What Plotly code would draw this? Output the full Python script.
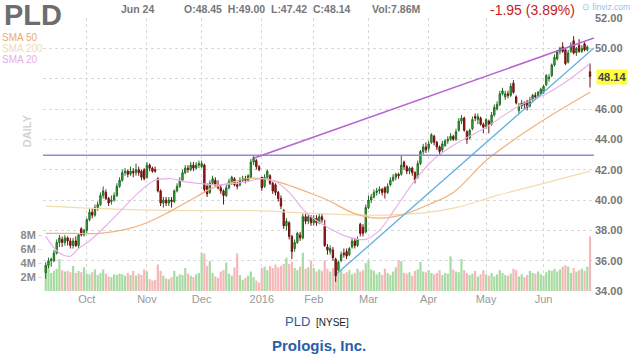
import plotly.graph_objects as go

# ---------------- data ----------------
opens = [
    35.2, 35.7, 36.0, 36.0, 36.5, 37.2, 37.4, 37.2, 37.5, 37.3,
    37.0, 37.3, 37.0, 38.1, 37.7, 38.0, 38.7, 39.2, 39.0, 39.5,
    39.7, 40.3, 40.5, 40.1, 39.9, 40.0, 40.3, 40.9, 41.3, 41.8,
    41.9, 41.7, 41.9, 41.8, 42.0, 41.9, 42.0, 41.5, 42.3, 42.1,
    42.0, 41.4, 40.6, 39.8, 40.0, 39.8, 40.0, 39.9, 40.6, 40.9,
    41.3, 41.8, 42.1, 42.0, 42.3, 42.1, 42.3, 42.2, 42.3, 40.9,
    40.5, 41.1, 41.3, 41.0, 40.8, 40.6, 40.3, 40.8, 41.2, 41.4,
    41.0, 41.0, 41.3, 41.4, 41.3, 41.5, 42.5, 42.6, 42.2, 41.5,
    40.9, 41.5, 41.6, 41.1, 41.0, 40.5, 40.1, 39.3, 38.3, 38.5,
    37.6, 36.8, 37.2, 37.7, 37.5, 38.9, 38.6, 38.9, 38.5, 38.8,
    38.5, 38.9, 38.3, 36.9, 36.6, 36.7, 36.1, 35.4, 36.0, 36.5,
    36.6, 36.4, 36.9, 37.3, 37.0, 38.4, 38.2, 37.9, 39.5, 40.0,
    40.2, 40.5, 40.6, 40.7, 40.8, 40.5, 41.0, 41.3, 41.5, 41.7,
    41.7, 42.5, 42.2, 41.9, 42.1, 41.8, 41.5, 42.4, 43.2, 43.5,
    43.4, 43.8, 44.2, 43.8, 43.5, 43.3, 43.6, 43.9, 44.0, 44.2,
    44.0, 44.6, 45.2, 45.4, 44.5, 44.1, 44.7, 45.5, 45.3, 45.4,
    45.0, 44.8, 45.2, 45.0, 45.6, 46.0, 46.3, 47.0, 46.8, 47.0,
    46.9, 47.7, 46.8, 45.9, 46.2, 46.4, 46.5, 46.2, 46.6, 46.9,
    46.9, 47.0, 47.1, 47.6, 48.0, 48.2, 48.9, 49.3, 49.8, 50.1,
    49.9, 49.1, 49.8, 50.5, 49.7, 50.2, 49.8, 50.3, 49.9, 48.45,
]
highs = [
    35.9, 36.2, 36.2, 36.7, 37.4, 37.7, 37.6, 37.7, 37.6, 37.5,
    37.5, 37.6, 37.8, 38.2, 38.1, 38.8, 39.4, 39.4, 39.7, 39.9,
    40.5, 40.9, 40.7, 40.2, 40.3, 40.5, 41.1, 41.5, 42.0, 42.1,
    42.0, 42.2, 42.1, 42.4, 42.2, 42.0, 42.1, 42.5, 42.4, 42.2,
    42.2, 41.5, 40.7, 40.2, 40.2, 40.2, 40.2, 40.7, 41.1, 41.5,
    42.0, 42.3, 42.3, 42.5, 42.5, 42.5, 42.6, 42.6, 42.4, 41.1,
    41.3, 41.6, 41.5, 41.3, 41.0, 40.7, 41.0, 41.4, 41.6, 41.5,
    41.2, 41.5, 41.6, 41.6, 41.7, 42.7, 42.95, 42.7, 42.3, 41.5,
    41.7, 42.0, 41.7, 41.2, 41.1, 40.6, 40.3, 39.4, 38.8, 38.6,
    37.7, 37.4, 37.9, 37.9, 39.1, 39.1, 39.1, 39.0, 39.0, 39.0,
    39.1, 39.1, 38.7, 37.1, 37.0, 36.9, 36.2, 36.0, 36.6, 36.8,
    36.8, 36.9, 37.5, 37.5, 37.6, 38.5, 38.4, 39.7, 40.3, 40.4,
    40.7, 40.8, 40.9, 40.8, 40.9, 41.1, 41.5, 41.7, 41.8, 41.8,
    42.9, 42.6, 42.3, 42.2, 42.2, 41.9, 42.6, 43.3, 43.7, 43.8,
    43.9, 44.4, 44.3, 43.9, 43.6, 43.9, 44.0, 44.2, 44.4, 44.3,
    44.7, 45.4, 45.6, 45.5, 44.6, 44.7, 45.5, 45.7, 45.7, 45.5,
    45.1, 45.4, 45.3, 45.8, 46.3, 46.5, 47.2, 47.4, 47.2, 47.2,
    47.7, 47.9, 46.9, 46.4, 46.6, 46.5, 46.6, 46.8, 47.0, 47.1,
    47.2, 47.4, 47.6, 48.3, 48.3, 49.0, 49.6, 49.9, 50.1, 50.4,
    50.0, 49.9, 50.4, 50.8, 50.1, 50.6, 50.2, 50.4, 50.2, 49.00,
]
lows = [
    34.8, 35.5, 35.6, 35.9, 36.4, 36.9, 36.9, 37.0, 37.0, 36.8,
    36.8, 36.9, 36.8, 37.6, 37.6, 37.8, 38.6, 38.8, 38.9, 39.3,
    39.6, 40.1, 40.0, 39.6, 39.7, 39.9, 40.2, 40.8, 41.2, 41.6,
    41.5, 41.6, 41.5, 41.6, 41.6, 41.3, 41.3, 41.4, 41.9, 41.8,
    41.8, 40.5, 39.6, 39.5, 39.6, 39.6, 39.5, 39.8, 40.5, 40.8,
    41.2, 41.7, 41.8, 41.9, 41.9, 42.0, 42.1, 42.1, 40.5, 40.2,
    40.4, 41.0, 40.9, 40.7, 40.4, 39.7, 40.2, 40.7, 41.0, 40.9,
    40.7, 40.9, 41.2, 41.1, 41.2, 41.5, 42.3, 42.0, 41.9, 40.6,
    40.8, 41.3, 41.0, 40.4, 40.3, 39.9, 39.4, 38.1, 38.0, 37.4,
    36.1, 36.6, 37.1, 37.3, 37.4, 38.4, 38.4, 38.3, 38.3, 38.3,
    38.4, 38.5, 36.9, 36.4, 36.4, 36.0, 34.6, 35.3, 35.9, 36.2,
    36.1, 36.3, 36.8, 36.8, 36.9, 37.6, 37.6, 37.8, 39.4, 39.8,
    40.1, 40.3, 40.4, 40.3, 40.1, 40.4, 40.9, 41.2, 41.3, 41.4,
    41.6, 42.0, 41.7, 41.7, 41.6, 41.1, 41.4, 42.3, 43.0, 43.1,
    43.2, 43.7, 43.6, 43.3, 42.9, 43.1, 43.5, 43.7, 43.9, 43.9,
    43.9, 44.5, 45.0, 44.5, 43.7, 44.0, 44.6, 45.2, 45.0, 44.9,
    44.4, 44.7, 44.4, 44.9, 45.5, 45.9, 46.2, 46.9, 46.6, 46.7,
    46.8, 47.0, 46.3, 45.7, 46.0, 46.0, 45.9, 46.1, 46.5, 46.6,
    46.8, 46.9, 47.0, 47.5, 47.8, 48.1, 48.8, 49.2, 49.6, 49.7,
    48.9, 49.0, 49.7, 49.6, 49.5, 49.7, 49.7, 49.8, 49.8, 47.42,
]
closes = [
    35.7, 36.0, 36.1, 36.5, 37.2, 37.5, 37.2, 37.5, 37.3, 37.0,
    37.3, 37.0, 37.7, 37.7, 38.0, 38.7, 39.2, 39.0, 39.5, 39.7,
    40.3, 40.6, 40.1, 39.8, 40.0, 40.3, 40.9, 41.3, 41.8, 41.9,
    41.7, 41.9, 41.8, 42.0, 41.8, 41.5, 41.4, 42.3, 42.1, 41.9,
    41.9, 40.6, 39.8, 40.0, 39.8, 40.0, 39.9, 40.6, 40.9, 41.3,
    41.8, 42.1, 42.0, 42.3, 42.1, 42.3, 42.4, 42.4, 40.7, 40.4,
    41.1, 41.4, 41.0, 40.8, 40.6, 40.3, 40.8, 41.2, 41.5, 41.0,
    40.9, 41.3, 41.4, 41.3, 41.6, 42.5, 42.8, 42.2, 42.0, 40.8,
    41.5, 41.9, 41.1, 40.6, 40.5, 40.1, 39.6, 38.3, 38.6, 37.6,
    36.6, 37.2, 37.8, 37.5, 38.9, 38.6, 38.9, 38.5, 38.8, 38.5,
    38.9, 38.7, 37.0, 36.7, 36.8, 36.2, 35.0, 35.9, 36.4, 36.4,
    36.3, 36.8, 37.3, 37.0, 37.4, 37.8, 37.8, 39.5, 40.0, 40.2,
    40.5, 40.6, 40.7, 40.5, 40.5, 40.9, 41.3, 41.5, 41.7, 41.6,
    42.3, 42.2, 41.9, 42.1, 41.8, 41.3, 42.4, 43.2, 43.5, 43.3,
    43.7, 44.3, 43.8, 43.5, 43.2, 43.7, 43.9, 44.0, 44.2, 44.0,
    44.5, 45.2, 45.4, 44.6, 44.0, 44.6, 45.3, 45.4, 45.5, 45.0,
    44.8, 45.3, 45.0, 45.6, 46.1, 46.3, 47.0, 47.2, 47.0, 46.9,
    47.5, 47.1, 46.4, 46.2, 46.4, 46.3, 46.1, 46.6, 46.9, 46.8,
    47.1, 47.3, 47.5, 48.2, 48.1, 48.9, 49.4, 49.8, 50.0, 49.8,
    49.0, 49.7, 50.2, 49.7, 50.0, 49.8, 50.0, 49.9, 50.09, 48.14,
]
volumes_m = [
    3.5, 3.9, 2.6, 2.9, 3.2, 4.6, 3.0, 2.8, 2.9, 2.7,
    3.6, 2.6, 2.9, 2.7, 3.4, 2.5, 2.4, 2.7, 3.1, 2.3,
    2.6, 3.1, 2.5, 2.1, 2.0, 2.4, 2.3, 2.5, 2.4, 2.2,
    2.6, 2.3, 2.9, 2.2, 2.5, 2.3, 3.1, 2.8, 1.7, 1.5,
    1.6, 3.8, 2.9, 2.2, 1.8, 1.7, 2.0, 2.9, 2.1, 2.4,
    2.3, 3.3, 2.5, 2.2, 2.0, 2.4, 2.6, 5.5, 5.4, 3.6,
    4.3, 2.6, 2.1, 1.9, 2.8, 3.0, 4.1, 2.5, 2.2, 3.4,
    5.4, 2.3, 1.6, 1.9, 2.2, 2.8, 2.0, 1.5, 1.2, 3.3,
    3.5, 3.0, 3.6, 3.3, 3.8, 3.4, 3.6, 3.9, 4.8, 3.9,
    4.2, 3.3, 3.0, 3.5, 5.5, 3.2, 3.4, 4.4, 3.3, 2.8,
    3.1, 2.9, 4.4, 3.2, 2.8, 3.3, 4.6, 3.8, 3.0, 2.5,
    2.7, 3.0, 2.4, 2.6, 3.2, 2.8, 3.0, 4.0, 4.4, 3.1,
    2.9, 2.4, 2.7, 2.3, 3.2, 2.6, 2.3, 2.8, 3.4, 4.4,
    4.3, 2.6, 2.5, 2.7, 2.2, 2.9, 3.1, 4.2, 2.8, 2.7,
    3.0, 2.6, 2.4, 2.6, 3.0, 2.3, 2.6, 2.5, 5.0, 3.1,
    2.8, 2.7, 4.6, 3.0, 2.6, 2.3, 2.5, 2.9, 2.1, 2.4,
    3.0, 2.4, 2.2, 2.6, 2.1, 2.4, 3.0, 2.6, 2.3, 2.2,
    2.5, 3.2, 3.0, 2.1, 2.4, 2.0, 2.3, 2.9, 2.6, 2.5,
    2.8, 2.4, 2.2, 2.7, 3.0, 2.9, 3.2, 2.8, 3.1, 3.5,
    3.7, 3.5, 2.6, 3.3, 2.8, 3.0, 3.2, 2.9, 3.5, 7.86,
]

month_idx = [15, 37, 57, 79, 98, 118, 140, 161, 182]
month_lbl = ["Oct", "Nov", "Dec", "2016", "Feb", "Mar", "Apr", "May", "Jun"]

price_ticks = [34, 36, 38, 40, 42, 44, 46, 48, 50, 52]
price_tick_lbl = ["34.00", "36.00", "38.00", "40.00", "42.00", "44.00", "46.00", "", "50.00", "52.00"]
vol_ticks = [2, 4, 6, 8]
vol_tick_lbl = ["2M", "4M", "6M", "8M"]

sma20_idx = [0, 5, 9, 12, 16, 22, 28, 34, 40, 46, 51, 56, 63, 73, 79, 84, 89, 94, 97,
             103, 110, 117, 122, 128, 135, 142, 149, 161, 173, 183, 191, 199]
sma20_val = [37.6, 36.5, 36.3, 36.8, 37.3, 38.3, 39.4, 40.5, 41.3, 41.4, 41.2, 41.1, 41.0,
             41.2, 41.4, 41.2, 40.5, 39.4, 38.9, 38.2, 37.6, 37.4, 38.0, 39.5, 41.3, 42.7,
             43.6, 44.8, 46.2, 47.0, 47.9, 49.0]
sma50_idx = [0, 10, 20, 30, 37, 45, 50, 55, 61, 67, 73, 80, 85, 90, 96, 103, 113, 122,
             130, 140, 149, 161, 173, 185, 199]
sma50_val = [37.8, 37.8, 37.8, 38.1, 38.5, 39.2, 39.7, 40.2, 40.8, 41.1, 41.4, 41.4, 41.2,
             40.9, 40.5, 40.0, 39.1, 38.8, 39.0, 39.7, 40.5, 42.6, 44.2, 45.6, 47.1]
sma200_idx = [0, 25, 50, 75, 100, 120, 135, 150, 165, 180, 199]
sma200_val = [39.6, 39.4, 39.3, 39.3, 39.1, 39.0, 39.1, 39.5, 40.3, 41.0, 41.9]

resist_level = 42.95
trend_up_x = [76, 200.45]
trend_up_y = [42.75, 50.68]
trend_sup_x = [106.5, 200.45]
trend_sup_y = [35.15, 50.03]

header_date = "Jun 24"
header_ohlc = "O:48.45  H:49.00  L:47.42  C:48.14"
header_vol = "Vol:7.86M"
header_chg = "-1.95 (3.89%)"
last_close = closes[-1]

# ---------------- figure ----------------
FONT = "Liberation Sans, Arial, sans-serif"
W, H = 635, 355
ML, MR, MT, MB = 43, 38, 16, 64
PW, PH = W - ML - MR, H - MT - MB


def px(xp):
    return (xp - ML) / PW


def py(yp):
    return (H - MB - yp) / PH


idx = list(range(len(closes)))
vol_colors = ["#a8dba2" if c >= o else "#f5b8b8" for o, c in zip(opens, closes)]

fig = go.Figure()
fig.add_trace(go.Bar(x=idx, y=volumes_m, marker=dict(color=vol_colors, line=dict(width=0)),
                     xaxis="x", yaxis="y", hoverinfo="skip"))
fig.add_trace(go.Scatter(x=sma200_idx, y=sma200_val, mode="lines", yaxis="y2",
                         line=dict(color="#f2dcb0", width=1.2, shape="spline")))
fig.add_trace(go.Scatter(x=sma50_idx, y=sma50_val, mode="lines", yaxis="y2",
                         line=dict(color="#f2b27a", width=1.2, shape="spline")))
fig.add_trace(go.Scatter(x=sma20_idx, y=sma20_val, mode="lines", yaxis="y2",
                         line=dict(color="#e8b2e8", width=1.2, shape="spline")))
fig.add_trace(go.Scatter(x=[-1, 200.45], y=[resist_level, resist_level], mode="lines", yaxis="y2",
                         line=dict(color="#8e8ed8", width=1.3)))
fig.add_trace(go.Scatter(x=trend_up_x, y=trend_up_y, mode="lines", yaxis="y2",
                         line=dict(color="#b565d2", width=1.5)))
fig.add_trace(go.Scatter(x=trend_sup_x, y=trend_sup_y, mode="lines", yaxis="y2",
                         line=dict(color="#5eaedf", width=1.3)))
fig.add_trace(go.Candlestick(
    x=idx, open=opens, high=highs, low=lows, close=closes, yaxis="y2",
    increasing=dict(line=dict(color="#226b22", width=1), fillcolor="#3cbf3c"),
    decreasing=dict(line=dict(color="#6e1010", width=1), fillcolor="#b01c1c"),
    whiskerwidth=0,
))

grid = dict(showgrid=True, gridcolor="#d9d9d9", griddash="3px,3px", gridwidth=1)

fig.update_layout(
    width=W, height=H, margin=dict(l=ML, r=MR, t=MT, b=MB, pad=0),
    paper_bgcolor="white", plot_bgcolor="white", showlegend=False,
    font=dict(family=FONT),
    xaxis=dict(range=[-1, 200.45], tickvals=[-1] + month_idx + [200.45],
               ticktext=[""] + month_lbl + [""], zeroline=False, showline=False, ticks="",
               tickfont=dict(size=11, color="#999999"), rangeslider=dict(visible=False),
               **grid),
    yaxis=dict(range=[0, PH / 7.0], tickvals=vol_ticks, ticktext=vol_tick_lbl, side="left",
               showgrid=False, zeroline=False, showline=False, ticks="outside", ticklen=4,
               tickcolor="#dddddd", tickfont=dict(size=11, color="#8a8a8a", weight="bold")),
    yaxis2=dict(range=[34, 52], tickvals=price_ticks, ticktext=price_tick_lbl, side="right",
                overlaying="y", zeroline=False, showline=False, ticks="",
                tickfont=dict(size=11, color="#777777", weight="bold"), **grid),
)

ann = []


def text(x, y, s, size, color, xanchor="left", bold=False, **kw):
    ann.append(dict(x=px(x), y=py(y), xref="paper", yref="paper", text=("<b>%s</b>" % s) if bold else s,
                    showarrow=False, xanchor=xanchor, yanchor="middle",
                    font=dict(family=FONT, size=size, color=color), **kw))


text(2, 13, "PLD", 29, "#6d6d6d", bold=True)
text(0, 36, "SMA 50", 10, "#f1a96e")
text(0, 47, "SMA 200", 10, "#f0dcb0")
text(0, 58, "SMA 20", 10, "#e6aee6")
text(119, 7, header_date, 10.5, "#777777", bold=True)
text(183, 7, header_ohlc, 10.5, "#777777", bold=True)
text(372, 7, header_vol, 10.5, "#777777", bold=True)
text(490, 8, header_chg, 14, "#c41c1c")
text(583, 4.5, "⊙ finviz.com", 8.5, "#9ec0e2")
text(27, 130, "DAILY", 11, "#d3d3d3", xanchor="center", bold=True, textangle=-90)
text(313, 322, "PLD", 13, "#2b5ea6", xanchor="right")
text(315, 323, "[NYSE]", 10, "#222222")
text(320, 346, "Prologis, Inc.", 15, "#2b5ea6", xanchor="center", bold=True)
ann.append(dict(x=1, y=last_close, xref="paper", yref="y2", text="<b>%.2f</b>" % last_close,
                showarrow=False, xanchor="left", yanchor="middle", xshift=2, bgcolor="#ffff3c",
                borderpad=1, font=dict(family=FONT, size=11, color="#444444")))
fig.update_layout(annotations=ann)

fig.write_html("out.html")
